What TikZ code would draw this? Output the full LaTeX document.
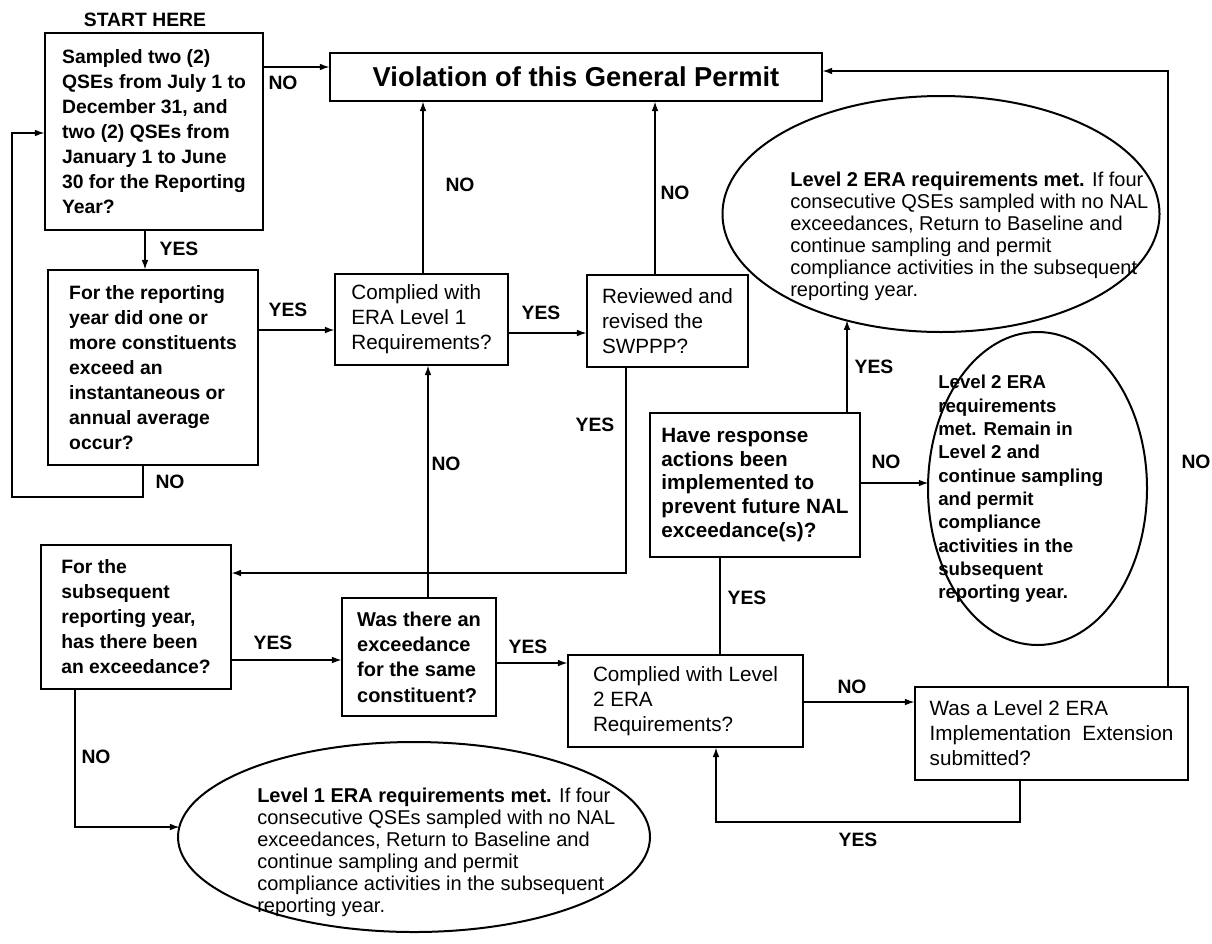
\documentclass[tikz,border=0pt]{standalone}
\usepackage{fontspec}
\setmainfont{Liberation Sans}
\usetikzlibrary{arrows.meta,shapes.geometric}
\newcommand\fsz[2]{\fontsize{#1}{#2}\selectfont}
\begin{document}
\begin{tikzpicture}[x=0.75pt,y=-0.75pt,
 wh/.style 2 args={minimum width=#1*0.75pt, minimum height=#2*0.75pt},
 box/.style={draw, line width=1.1pt, rectangle, inner sep=0pt, align=left},
 bxb/.style={box, font=\bfseries\fsz{14.5}{18.75}},
 bxr/.style={box, font=\fsz{15.5}{18.75}},
 lbl/.style={font=\bfseries\fsz{14.5}{17}, inner sep=0pt},
 ell/.style={draw, ellipse, line width=1.5pt, inner sep=0pt},
 etxt/.style={align=left, inner sep=0pt, font=\fsz{15}{16.5}},
 conn/.style={line width=0.8pt},
 arr/.style={conn, -{Latex[length=7pt,width=5pt]}},
]
\useasboundingbox[fill=white] (0,0) rectangle (1212,943);

% boxes
\node[lbl] (start) at (145,20) {START HERE};
\node[bxb, wh={218}{197}] (a) at (154,131.5) {Sampled two (2)\\QSEs from July 1 to\\December 31, and\\two (2) QSEs from\\January 1 to June\\30 for the Reporting\\Year?};
\node[box, wh={492}{48}, align=center, font=\bfseries\fsz{20.5}{24}] (viol) at (576,77) {Violation of this General Permit};
\node[bxb, wh={210}{195}] (b) at (153,367.5) {For the reporting\\year did one or\\more constituents\\exceed an\\instantaneous or\\annual average\\occur?};
\node[bxr, wh={173}{91}] (c) at (421.5,319.5) {Complied with\\ERA Level 1\\Requirements?};
\node[bxr, wh={161}{92}] (d) at (667.5,321) {Reviewed and\\revised the\\SWPPP?};
\node[bxb, wh={210}{144}, font=\bfseries\fsz{15.5}{17.8}] (g) at (755,485) {Have response\\actions been\\implemented to\\prevent future NAL\\exceedance(s)?};
\node[bxb, wh={190}{144}] (e) at (136,617) {For the\\subsequent\\reporting year,\\has there been\\an exceedance?};
\node[bxb, wh={154}{118}, font=\bfseries\fsz{15}{19}] (f) at (419,657) {Was there an\\exceedance\\for the same\\constituent?};
\node[bxr, wh={235}{92}] (h) at (685.5,701) {Complied with Level\\2 ERA\\Requirements?};
\node[bxr, wh={273}{93}] (i) at (1051.5,733.5) {Was a Level 2 ERA\\Implementation\ \ Extension\\submitted?};

% ellipses
\node[ell, wh={437}{236}] (e2) at (941,214) {};
\node[etxt, anchor=west] (e2t) at (790,236) {\textbf{Level 2 ERA requirements met.} If four\\consecutive QSEs sampled with no NAL\\exceedances, Return to Baseline and\\continue sampling and permit\\compliance activities in the subsequent\\reporting year.};
\node[ell, wh={219}{313}] (e3) at (1037.5,488.5) {};
\node[etxt, anchor=west, font=\bfseries\fsz{14}{17.5}] (e3t) at (938,489) {Level 2 ERA\\requirements\\met. Remain in\\Level 2 and\\continue sampling\\and permit\\compliance\\activities in the\\subsequent\\reporting year.};
\node[ell, wh={472}{190}] (e1) at (414,837) {};
\node[etxt, anchor=west] (e1t) at (257,852) {\textbf{Level 1 ERA requirements met.} If four\\consecutive QSEs sampled with no NAL\\exceedances, Return to Baseline and\\continue sampling and permit\\compliance activities in the subsequent\\reporting year.};

% helper coordinates
\coordinate (y67) at (0,67);
\coordinate (y71) at (0,71);
\coordinate (x1168) at (1168,0);
\coordinate (x145) at (145,0);
\coordinate (x143) at (143,0);
\coordinate (y497) at (0,497);
\coordinate (x12) at (12,0);
\coordinate (y133) at (0,133);
\coordinate (y330) at (0,330);
\coordinate (x423) at (423,0);
\coordinate (y333) at (0,333);
\coordinate (x655) at (655,0);
\coordinate (x626) at (626,0);
\coordinate (y573) at (0,573);
\coordinate (x428) at (428,0);
\coordinate (y660) at (0,660);
\coordinate (y663) at (0,663);
\coordinate (x720) at (720,0);
\coordinate (x847) at (847,0);
\coordinate (y483) at (0,483);
\coordinate (y702) at (0,702);
\coordinate (x1020) at (1020,0);
\coordinate (y822) at (0,822);
\coordinate (x716) at (716,0);
\coordinate (x75) at (75,0);
\coordinate (y827) at (0,827);
\coordinate (e2hit) at (847,320.5);
\coordinate (e3hit) at (928.1,483);
\coordinate (e1hit) at (179.3,827);

% connectors
\draw[arr] (a.east |- y67) -- (viol.west |- y67);
\draw[arr] (i.north -| x1168) -- (x1168 |- y71) -- (viol.east |- y71);
\draw[arr] (a.south -| x145) -- (b.north -| x145);
\draw[arr] (b.south -| x143) -- (x143 |- y497) -- (x12 |- y497) -- (x12 |- y133) -- (a.west |- y133);
\draw[arr] (b.east |- y330) -- (c.west |- y330);
\draw[arr] (c.north -| x423) -- (viol.south -| x423);
\draw[arr] (c.east |- y333) -- (d.west |- y333);
\draw[arr] (d.north -| x655) -- (viol.south -| x655);
\draw[arr] (d.south -| x626) -- (x626 |- y573) -- (e.east |- y573);
\draw[arr] (f.north -| x428) -- (c.south -| x428);
\draw[arr] (e.east |- y660) -- (f.west |- y660);
\draw[arr] (f.east |- y663) -- (h.west |- y663);
\draw[conn] (h.north -| x720) -- (g.south -| x720);
\draw[arr] (g.north -| x847) -- (e2hit);
\draw[arr] (g.east |- y483) -- (e3hit);
\draw[arr] (h.east |- y702) -- (i.west |- y702);
\draw[arr] (i.south -| x1020) -- (x1020 |- y822) -- (x716 |- y822) -- (h.south -| x716);
\draw[arr] (e.south -| x75) -- (x75 |- y827) -- (e1hit);

% labels
\node[lbl] (l1) at (283,83) {NO};
\node[lbl] (l2) at (179,249) {YES};
\node[lbl] (l3) at (288,310) {YES};
\node[lbl] (l4) at (170,482) {NO};
\node[lbl] (l5) at (460,185) {NO};
\node[lbl] (l6) at (541,313) {YES};
\node[lbl] (l7) at (675,193) {NO};
\node[lbl] (l8) at (595,425) {YES};
\node[lbl] (l9) at (446,464) {NO};
\node[lbl] (l10) at (273,643) {YES};
\node[lbl] (l11) at (528,647) {YES};
\node[lbl] (l12) at (747,598) {YES};
\node[lbl] (l13) at (874,367) {YES};
\node[lbl] (l14) at (886,462) {NO};
\node[lbl] (l15) at (852,687) {NO};
\node[lbl] (l16) at (1196,462) {NO};
\node[lbl] (l17) at (96,757) {NO};
\node[lbl] (l18) at (858,840) {YES};
\end{tikzpicture}
\end{document}
